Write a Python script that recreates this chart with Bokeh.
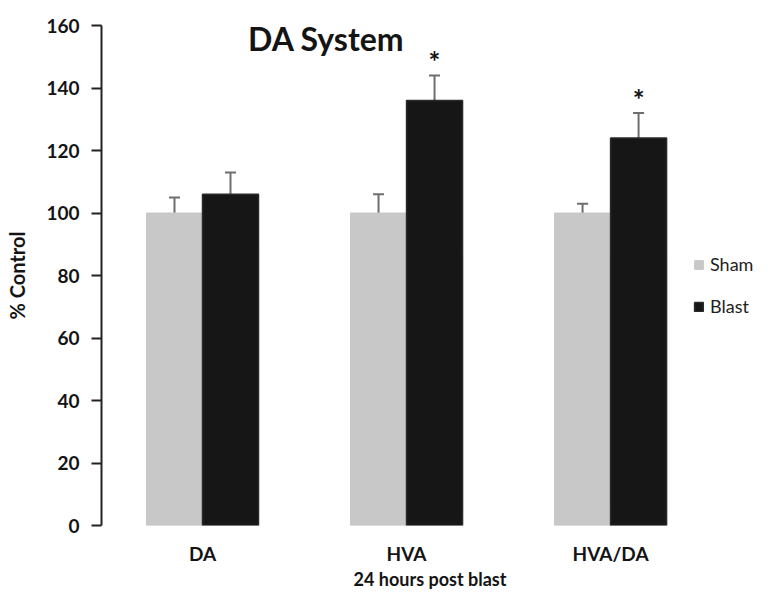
from bokeh.plotting import figure
from bokeh.models import (ColumnDataSource, Range1d, FixedTicker, Legend, LegendItem,
                          Whisker, TeeHead, Label)
from bokeh.core.properties import value
from bokeh.embed import file_html
from bokeh.resources import INLINE

categories = ["DA", "HVA", "HVA/DA"]
sham = [100, 100, 100]
sham_err = [5, 6, 3]
blast = [106, 136, 124]
blast_err = [7, 8, 8]
sig = ["", "*", "*"]
y_ticks = [0, 20, 40, 60, 80, 100, 120, 140, 160]

FONT = "Lato"
TXT = "#141414"
bw = 0.2745
xs = [i + 1 for i in range(len(categories))]

sham_src = ColumnDataSource(dict(x=[x - bw / 2 for x in xs], top=sham,
                                 upper=[v + e for v, e in zip(sham, sham_err)]))
blast_src = ColumnDataSource(dict(x=[x + bw / 2 for x in xs], top=blast,
                                  upper=[v + e for v, e in zip(blast, blast_err)],
                                  star=sig,
                                  stary=[v + e + 4.5 for v, e in zip(blast, blast_err)]))

p = figure(width=758, height=592, output_backend="svg", toolbar_location=None,
           x_range=Range1d(0.505, 3.725), y_range=Range1d(0, 160),
           min_border_left=101, min_border_right=0, min_border_top=25, min_border_bottom=65)
p.outline_line_color = None
p.xgrid.grid_line_color = None
p.ygrid.grid_line_color = None
p.background_fill_color = "white"
p.border_fill_color = "white"

r_sham = p.vbar(x="x", top="top", width=bw, source=sham_src, fill_color="#c8c8c8",
                line_color="#c8c8c8")
r_blast = p.vbar(x="x", top="top", width=bw, source=blast_src, fill_color="#161616",
                 line_color="#2a2a2a", line_width=1.5)

for src in (sham_src, blast_src):
    w = Whisker(base="x", upper="upper", lower="top", source=src, dimension="height",
                line_color="#6e6e6e", line_width=2,
                upper_head=TeeHead(size=11, line_color="#6e6e6e", line_width=2),
                lower_head=None)
    p.add_layout(w)

p.text(x="x", y="stary", text="star", source=blast_src, text_font=value(FONT),
       text_font_style="bold", text_font_size="28px", text_align="center",
       text_baseline="alphabetic", text_color=TXT)

p.add_layout(Label(x=1.607, y=156, text="DA System", text_font=FONT, text_font_style="bold",
                   text_font_size="32px", text_align="center", text_baseline="alphabetic",
                   text_color=TXT))

# axes
p.xaxis.ticker = FixedTicker(ticks=xs)
p.xaxis.major_label_overrides = {x: c for x, c in zip(xs, categories)}
p.xaxis.axis_line_color = None
p.xaxis.major_tick_line_color = None
p.xaxis.minor_tick_line_color = None
p.xaxis.major_tick_out = 0
p.xaxis.major_label_standoff = 16
p.xaxis.major_label_text_font = FONT
p.xaxis.major_label_text_font_style = "bold"
p.xaxis.major_label_text_font_size = "19px"
p.xaxis.major_label_text_color = TXT
p.xaxis.axis_label = "24 hours post blast"
p.xaxis.axis_label_text_font = FONT
p.xaxis.axis_label_text_font_style = "bold"
p.xaxis.axis_label_text_font_size = "18px"
p.xaxis.axis_label_text_color = TXT
p.xaxis.axis_label_standoff = 0

p.yaxis.ticker = FixedTicker(ticks=y_ticks)
p.yaxis.bounds = (0, 160)
p.yaxis.axis_line_color = "#222222"
p.yaxis.axis_line_width = 2
p.yaxis.major_tick_line_color = "#222222"
p.yaxis.major_tick_line_width = 2
p.yaxis.major_tick_out = 10
p.yaxis.major_tick_in = 0
p.yaxis.minor_tick_line_color = None
p.yaxis.major_label_standoff = 12
p.yaxis.major_label_text_font = FONT
p.yaxis.major_label_text_font_style = "bold"
p.yaxis.major_label_text_font_size = "19px"
p.yaxis.major_label_text_color = TXT
p.yaxis.axis_label = "% Control"
p.yaxis.axis_label_text_font = FONT
p.yaxis.axis_label_text_font_style = "bold"
p.yaxis.axis_label_text_font_size = "20px"
p.yaxis.axis_label_text_color = TXT
p.yaxis.axis_label_standoff = 14

legend = Legend(items=[LegendItem(label="Sham", renderers=[r_sham]),
                       LegendItem(label="Blast", renderers=[r_blast])],
                location=(592, 208), orientation="vertical",
                glyph_width=11, glyph_height=11, spacing=20, padding=4,
                label_text_font=FONT, label_text_font_size="18px",
                label_text_color="#222222", label_standoff=6,
                border_line_color=None, background_fill_alpha=0)
p.add_layout(legend)

open("out.html", "w").write(file_html(p, INLINE))
